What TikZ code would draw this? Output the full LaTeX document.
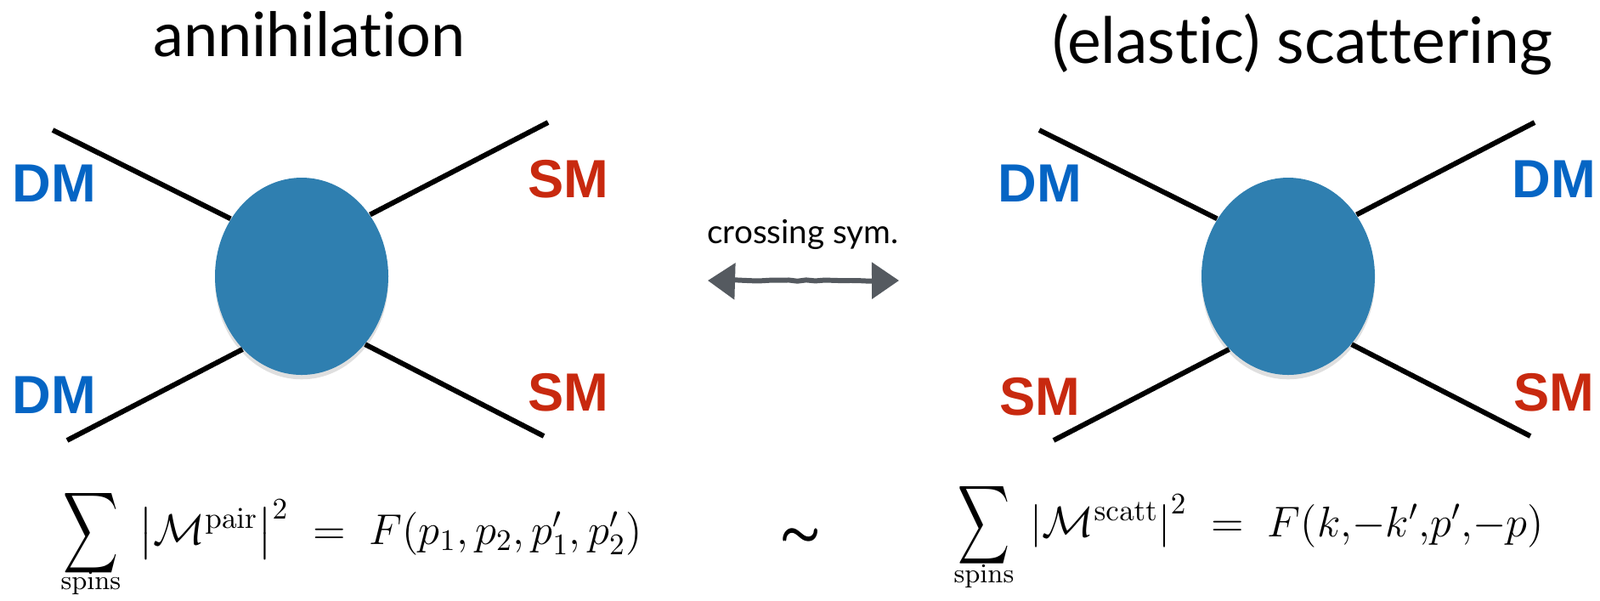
\documentclass[tikz,border=0pt]{standalone}
\usepackage[no-math]{fontspec}
\usepackage{amsmath, amssymb}
\newfontfamily\gillfont[Ligatures=NoCommon]{Lato}
\newfontfamily\labelfont{Liberation Sans}
\usepackage{tikz}
\usetikzlibrary{
  arrows.meta,
  shapes.geometric,
  shadows,
  decorations.pathmorphing
}
\definecolor{dmblue}{HTML}{0565C4}
\definecolor{smred}{HTML}{C8290F}
\definecolor{blobblue}{HTML}{2F7FB0}
\definecolor{crossgray}{HTML}{555A60}
\tikzset{>={Triangle[length=3.2mm,width=4.2mm]}}
\tikzset{title/.style={font=\gillfont\fontsize{20.5}{24}\selectfont, inner sep=0pt}}
\tikzset{dmlabel/.style={font=\labelfont\bfseries\fontsize{18}{20}\selectfont, text=dmblue, inner sep=0pt}}
\tikzset{smlabel/.style={font=\labelfont\bfseries\fontsize{18}{20}\selectfont, text=smred, inner sep=0pt}}
\tikzset{blob/.style={ellipse, fill=blobblue, minimum width=2.04cm, minimum height=2.32cm, inner sep=0pt,
    drop shadow={shadow xshift=0pt, shadow yshift=-1.5pt, opacity=0.25}}}
\tikzset{leg/.style={line width=1.7pt}}
\tikzset{formula/.style={inner sep=0pt, anchor=base west}}
\tikzset{sumsign/.style={inner sep=0pt}}
\tikzset{spinslabel/.style={inner sep=0pt, font=\fontsize{9}{11}\selectfont}}

\begin{document}
\begin{tikzpicture}[y=-1cm]
  \useasboundingbox (0,0) rectangle (18.83,7.06);
  % annihilation
  \node[title] (titleann) at (3.64,0.40) {annihilation};
  \node[blob] (blobann) at (3.55,3.25) {};
  \coordinate (annA) at (0.62,1.53);
  \coordinate (annB) at (0.79,5.18);
  \coordinate (annC) at (6.45,1.44);
  \coordinate (annD) at (6.40,5.13);
  \draw[leg] (annA) -- (blobann.141);
  \draw[leg] (annB) -- (blobann.231);
  \draw[leg] (annC) -- (blobann.42);
  \draw[leg] (annD) -- (blobann.313);
  \node[dmlabel] (dmannA) at (0.64,2.16) {DM};
  \node[dmlabel] (dmannB) at (0.64,4.65) {DM};
  \node[smlabel] (smannA) at (6.69,2.11) {SM};
  \node[smlabel] (smannB) at (6.69,4.62) {SM};
  % crossing
  \node[inner sep=0pt, font=\gillfont\fontsize{11}{14}\selectfont] (crosstext) at (9.45,2.76) {crossing sym.};
  \coordinate (crossL) at (8.33,3.30);
  \coordinate (crossR) at (10.58,3.30);
  \draw[<->, crossgray, line width=1.7pt, decorate,
    decoration={random steps, segment length=3pt, amplitude=0.2pt}] (crossL) -- (crossR);
  % scattering
  \node[title, font=\gillfont\fontsize{21.4}{24}\selectfont] (titlescat) at (15.33,0.52) {(elastic) scattering};
  \node[blob] (blobscat) at (15.16,3.25) {};
  \coordinate (scatA) at (12.23,1.53);
  \coordinate (scatB) at (12.40,5.18);
  \coordinate (scatC) at (18.06,1.44);
  \coordinate (scatD) at (18.01,5.13);
  \draw[leg] (scatA) -- (blobscat.141);
  \draw[leg] (scatB) -- (blobscat.231);
  \draw[leg] (scatC) -- (blobscat.42);
  \draw[leg] (scatD) -- (blobscat.313);
  \node[dmlabel] (dmscatA) at (12.24,2.16) {DM};
  \node[smlabel] (smscatB) at (12.24,4.67) {SM};
  \node[dmlabel] (dmscatC) at (18.29,2.11) {DM};
  \node[smlabel] (smscatD) at (18.29,4.62) {SM};
  % formulas
  \node[sumsign] (sumann) at (1.07,6.27) {\resizebox{0.65cm}{0.70cm}{$\displaystyle\sum$}};
  \node[spinslabel] (spinsann) at (1.07,6.86) {$\mathrm{spins}$};
  \node[formula, font=\fontsize{14.4}{18}\selectfont] (ampann) at (1.63,6.40)
    {$\left|\mathcal{M}^{\mathrm{pair}}\right|^2 \;=\; F(p_1,p_2,p'_1,p'_2)$};
  \node[inner sep=0pt, font=\fontsize{15}{15}\selectfont] (simnode) at (9.43,6.32) {$\pmb{\boldsymbol{\sim}}$};
  \node[sumsign] (sumscat) at (11.58,6.18) {\resizebox{0.61cm}{0.68cm}{$\displaystyle\sum$}};
  \node[spinslabel] (spinsscat) at (11.58,6.78) {$\mathrm{spins}$};
  \node[formula, font=\fontsize{13.6}{18}\selectfont] (ampscat) at (12.12,6.31)
    {$\left|\mathcal{M}^{\mathrm{scatt}}\right|^2 \;=\; F(k,\!-k',\!p',\!-p)$};
\end{tikzpicture}
\end{document}
